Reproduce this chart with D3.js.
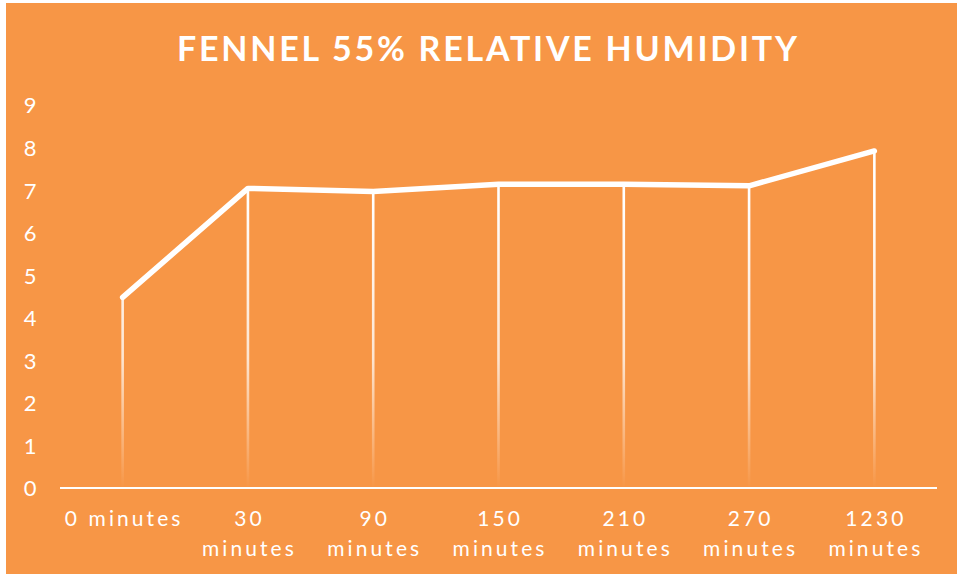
<!DOCTYPE html>
<html>
<head>
<meta charset="utf-8">
<script src="https://cdn.jsdelivr.net/npm/d3@7/dist/d3.min.js"></script>
<style>
  html, body { margin: 0; padding: 0; background: #ffffff; }
  svg { display: block; }
</style>
</head>
<body>
<svg id="chart" width="957" height="575"></svg>
<script>
// Fennel drying at 55% relative humidity
const categories = ["0 minutes", "30 minutes", "90 minutes", "150 minutes", "210 minutes", "270 minutes", "1230 minutes"];
const values = [4.48, 7.04, 6.97, 7.14, 7.14, 7.10, 7.92];
const yTicks = [0, 1, 2, 3, 4, 5, 6, 7, 8, 9];
const title = "FENNEL 55% RELATIVE HUMIDITY";

const W = 957, H = 575;
const bg = "#F79646";
const font = "Lato, 'Open Sans', sans-serif";

const svg = d3.select("#chart");

svg.append("rect")
  .attr("x", 6).attr("y", 3)
  .attr("width", W - 6).attr("height", 571)
  .attr("fill", bg);

const plot = { left: 60, right: 937, top: 105, bottom: 488 };

const x = d3.scaleBand()
  .domain(categories)
  .range([plot.left, plot.right])
  .padding(0);

const y = d3.scaleLinear()
  .domain([0, 9])
  .range([plot.bottom, plot.top]);

// Title, stretched with letter spacing to its width
const t = svg.append("text")
  .attr("x", 487).attr("y", 61)
  .attr("text-anchor", "middle")
  .attr("fill", "#ffffff")
  .attr("font-family", font)
  .attr("font-weight", 700)
  .attr("font-size", 34)
  .text(title);
{
  const w = t.node().getComputedTextLength();
  const ls = (620 - w) / (title.length - 1);
  t.attr("letter-spacing", ls).attr("x", 487 + ls / 2);
}

// Y axis labels
const yAxis = d3.axisLeft(y).tickValues(yTicks).tickSize(0).tickPadding(0);
const yg = svg.append("g")
  .attr("transform", "translate(37,0)")
  .call(yAxis);
yg.select(".domain").remove();
yg.selectAll("text")
  .attr("fill", "#ffffff")
  .attr("font-family", font)
  .attr("font-size", 22)
  .attr("text-anchor", "middle")
  .attr("x", -7)
  .attr("dy", "0.36em");

// Drop-line fade gradient
const defs = svg.append("defs");
const grad = defs.append("linearGradient")
  .attr("id", "dropFade")
  .attr("gradientUnits", "userSpaceOnUse")
  .attr("x1", 0).attr("x2", 0)
  .attr("y1", 200).attr("y2", plot.bottom);
grad.append("stop").attr("offset", 0).attr("stop-color", "#fff").attr("stop-opacity", 1);
grad.append("stop").attr("offset", 0.55).attr("stop-color", "#fff").attr("stop-opacity", 0.75);
grad.append("stop").attr("offset", 1).attr("stop-color", "#fff").attr("stop-opacity", 0);

const cx = d => x(d) + x.bandwidth() / 2;

svg.append("g")
  .selectAll("line")
  .data(categories)
  .join("line")
  .attr("x1", d => cx(d)).attr("x2", d => cx(d))
  .attr("y1", (d, i) => y(values[i]))
  .attr("y2", plot.bottom)
  .attr("stroke", "url(#dropFade)")
  .attr("stroke-width", 2.6);

// Baseline
svg.append("line")
  .attr("x1", plot.left).attr("x2", plot.right)
  .attr("y1", y(0)).attr("y2", y(0))
  .attr("stroke", "#ffffff")
  .attr("stroke-width", 2.2);

// Series line
const line = d3.line()
  .x((d, i) => cx(categories[i]))
  .y(d => y(d));

svg.append("path")
  .datum(values)
  .attr("d", line)
  .attr("fill", "none")
  .attr("stroke", "#ffffff")
  .attr("stroke-width", 5.5)
  .attr("stroke-linejoin", "round")
  .attr("stroke-linecap", "round");

// Category labels (wrapped onto two lines where needed)
const xg = svg.append("g");
const firstLineY = 526, lineGap = 30;
const labelSize = 21;
const probe = xg.append("text").attr("font-family", font).attr("font-size", labelSize).text("minutes");
const probeW = probe.node().getComputedTextLength();
probe.remove();
const labelLs = (95 - probeW) / 7;
categories.forEach((c, i) => {
  const lines = i === 0 ? [c] : c.split(" ");
  lines.forEach((s, j) => {
    xg.append("text")
      .attr("x", cx(c) + labelLs / 2)
      .attr("y", firstLineY + j * lineGap)
      .attr("text-anchor", "middle")
      .attr("fill", "#ffffff")
      .attr("font-family", font)
      .attr("font-size", labelSize)
      .attr("letter-spacing", labelLs)
      .text(s);
  });
});
</script>
</body>
</html>
